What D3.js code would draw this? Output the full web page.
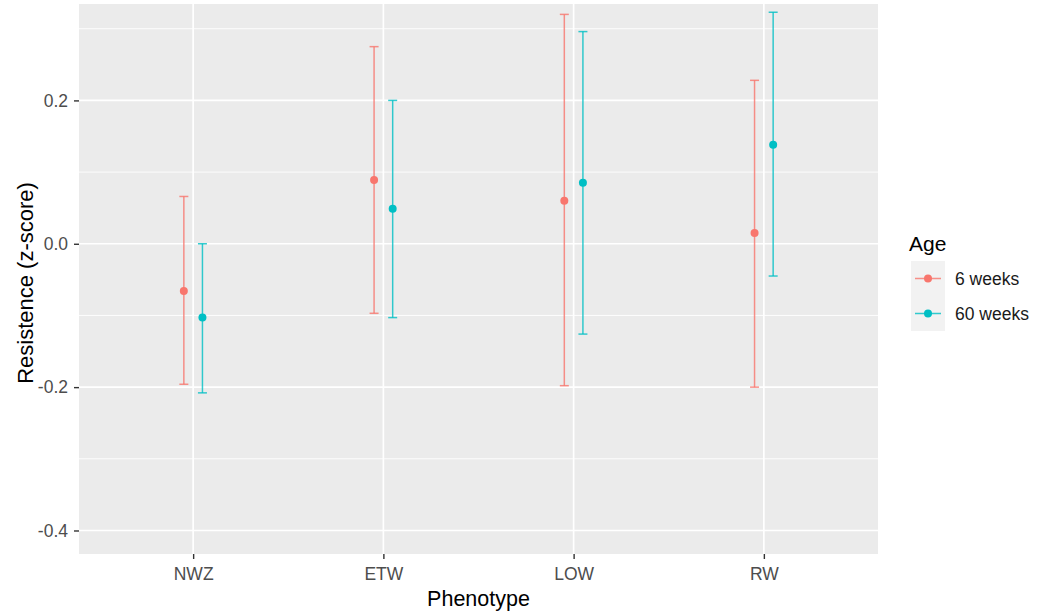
<meta charset="utf-8">
<script src="https://d3js.org/d3.v7.js"></script>
<style>
body { margin: 0; background: white; }
svg { font-family: "Liberation Sans", Arial, sans-serif; }
</style>
<div id="chart"></div>
<script>
// data
var phenotypes = ["NWZ", "ETW", "LOW", "RW"];
var ages = ["6 weeks", "60 weeks"];
var mean6 = [-0.066, 0.089, 0.060, 0.015];
var lower6 = [-0.196, -0.097, -0.198, -0.200];
var upper6 = [0.066, 0.275, 0.320, 0.228];
var mean60 = [-0.103, 0.049, 0.085, 0.138];
var lower60 = [-0.208, -0.103, -0.126, -0.045];
var upper60 = [0.000, 0.200, 0.296, 0.323];
var majorTicks = [-0.4, -0.2, 0.0, 0.2];
var minorTicks = [-0.3, -0.1, 0.1, 0.3];

var rows = [];
phenotypes.forEach(function(p, i) {
    rows.push({phenotype: p, age: ages[0], mean: mean6[i], lower: lower6[i], upper: upper6[i]});
    rows.push({phenotype: p, age: ages[1], mean: mean60[i], lower: lower60[i], upper: upper60[i]});
});

var width = 1037, height = 616;
var panel = {left: 79, right: 878, top: 4, bottom: 554};

var svg = d3.select("#chart")
    .append("svg")
        .attr("width", width)
        .attr("height", height);

var x = d3.scalePoint()
    .domain(phenotypes)
    .range([panel.left, panel.right])
    .padding(0.6);

var dodge = d3.scalePoint()
    .domain(ages)
    .range([-9.3, 9.3]);

var y = d3.scaleLinear()
    .domain([-0.4328, 0.3345])
    .range([panel.bottom, panel.top]);

var color = d3.scaleOrdinal()
    .domain(ages)
    .range(["#F8766D", "#00BFC4"]);

// panel background
svg.append("rect")
    .attr("x", panel.left)
    .attr("y", panel.top)
    .attr("width", panel.right - panel.left)
    .attr("height", panel.bottom - panel.top)
    .style("fill", "#EBEBEB");

// grid
svg.append("g").selectAll("line")
    .data(minorTicks)
    .enter()
    .append("line")
    .attr("x1", panel.left).attr("x2", panel.right)
    .attr("y1", d => y(d)).attr("y2", d => y(d))
    .style("stroke", "white").style("stroke-width", 0.9);

svg.append("g").selectAll("line")
    .data(majorTicks)
    .enter()
    .append("line")
    .attr("x1", panel.left).attr("x2", panel.right)
    .attr("y1", d => y(d)).attr("y2", d => y(d))
    .style("stroke", "white").style("stroke-width", 1.7);

svg.append("g").selectAll("line")
    .data(phenotypes)
    .enter()
    .append("line")
    .attr("x1", d => x(d)).attr("x2", d => x(d))
    .attr("y1", panel.top).attr("y2", panel.bottom)
    .style("stroke", "white").style("stroke-width", 1.7);

// error bars
var bars = svg.append("g").selectAll("g")
    .data(rows)
    .enter()
    .append("g")
    .style("stroke", d => color(d.age))
    .style("stroke-width", 1.5)
    .style("stroke-opacity", 0.8);

bars.append("line")
    .attr("x1", d => x(d.phenotype) + dodge(d.age))
    .attr("x2", d => x(d.phenotype) + dodge(d.age))
    .attr("y1", d => y(d.lower))
    .attr("y2", d => y(d.upper));
bars.append("line")
    .attr("x1", d => x(d.phenotype) + dodge(d.age) - 4.5)
    .attr("x2", d => x(d.phenotype) + dodge(d.age) + 4.5)
    .attr("y1", d => y(d.upper))
    .attr("y2", d => y(d.upper));
bars.append("line")
    .attr("x1", d => x(d.phenotype) + dodge(d.age) - 4.5)
    .attr("x2", d => x(d.phenotype) + dodge(d.age) + 4.5)
    .attr("y1", d => y(d.lower))
    .attr("y2", d => y(d.lower));

// points
svg.append("g").selectAll("circle")
    .data(rows)
    .enter()
    .append("circle")
    .attr("cx", d => x(d.phenotype) + dodge(d.age))
    .attr("cy", d => y(d.mean))
    .attr("r", 4)
    .style("fill", d => color(d.age));

// axes
var yAxis = svg.append("g")
    .attr("transform", "translate(" + panel.left + ",0)")
    .call(d3.axisLeft(y).tickValues(majorTicks).tickFormat(d => d.toFixed(1)).tickSize(5).tickPadding(6));
var xAxis = svg.append("g")
    .attr("transform", "translate(0," + panel.bottom + ")")
    .call(d3.axisBottom(x).tickSize(5).tickPadding(9));

[xAxis, yAxis].forEach(function(a) {
    a.select(".domain").remove();
    a.selectAll(".tick line").style("stroke", "#333333").style("stroke-width", 1.4);
    a.selectAll(".tick text")
        .style("fill", "#4D4D4D")
        .style("font-size", "17.5px")
        .style("font-family", "'Liberation Sans', Arial, sans-serif");
});

// axis titles
svg.append("text")
    .attr("x", (panel.left + panel.right) / 2)
    .attr("y", 606)
    .attr("text-anchor", "middle")
    .style("font-size", "21.5px")
    .text("Phenotype");

svg.append("text")
    .attr("transform", "translate(33," + 283 + ") rotate(-90)")
    .attr("text-anchor", "middle")
    .style("font-size", "22px")
    .text("Resistence (z-score)");

// legend
var legend = svg.append("g").attr("transform", "translate(909,0)");
legend.append("text")
    .attr("x", 0)
    .attr("y", 251)
    .style("font-size", "21px")
    .text("Age");

var keys = legend.selectAll(".key")
    .data(ages)
    .enter()
    .append("g")
    .attr("class", "key")
    .attr("transform", (d, i) => "translate(2," + (261 + i * 35) + ")");

keys.append("rect")
    .attr("width", 34)
    .attr("height", 35)
    .style("fill", "#F2F2F2");
keys.append("line")
    .attr("x1", 4).attr("x2", 30)
    .attr("y1", 17.5).attr("y2", 17.5)
    .style("stroke", d => color(d))
    .style("stroke-width", 1.5)
    .style("stroke-opacity", 0.8);
keys.append("circle")
    .attr("cx", 17).attr("cy", 17.5)
    .attr("r", 4)
    .style("fill", d => color(d));
keys.append("text")
    .attr("x", 44)
    .attr("y", 17.5)
    .attr("dy", "0.35em")
    .style("font-size", "17.5px")
    .style("fill", "#1A1A1A")
    .text(d => d);
</script>
